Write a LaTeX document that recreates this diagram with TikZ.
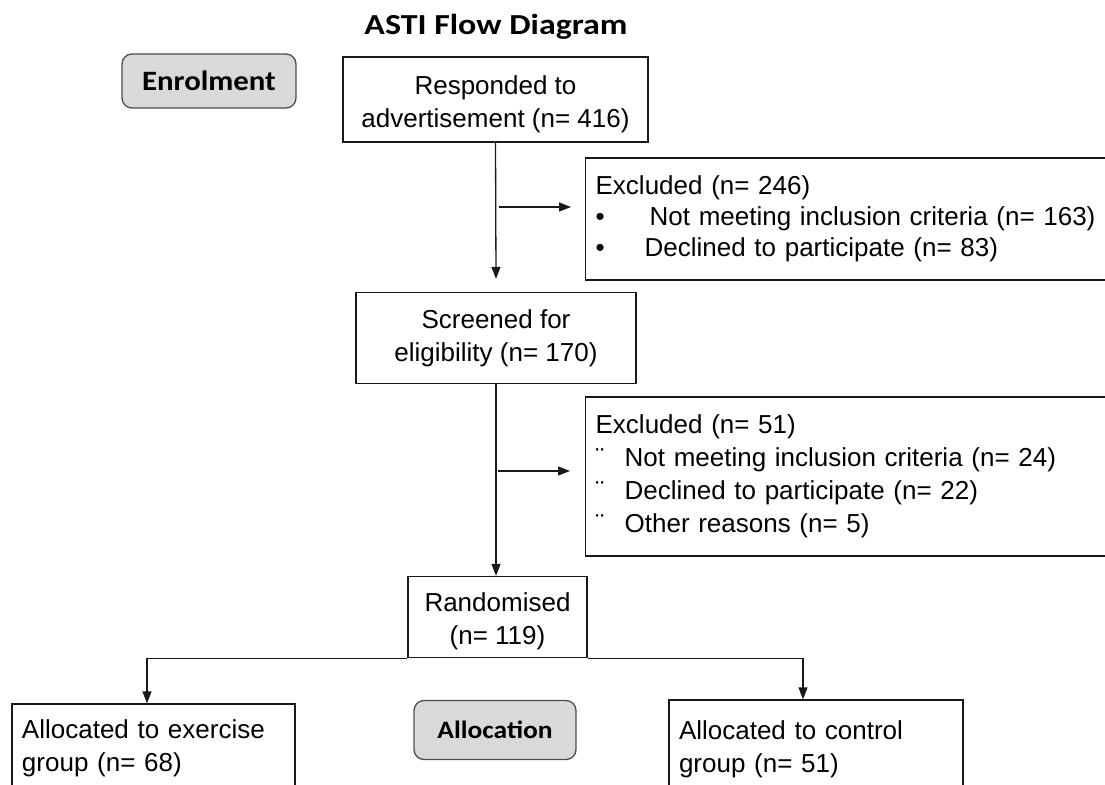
\documentclass[tikz,border=0pt]{standalone}
\usepackage{fontspec}
\setmainfont{Liberation Sans}
\newfontfamily\calibT[FakeStretch=1.17]{Carlito}
\newfontfamily\calibP[FakeStretch=1.1]{Carlito}
\usetikzlibrary{arrows.meta,calc}
\definecolor{phasefill}{HTML}{D9D9D9}
\definecolor{phaseline}{HTML}{4D4D4D}
\newcommand\topstrut[1]{\rule{0pt}{#1}}
\newcommand\botstrut[1]{\rule[-#1]{0pt}{0pt}}
\begin{document}
\begin{tikzpicture}[x=1bp,y=-1bp,
  box/.style={draw=black!90, line width=1.3bp, inner sep=0pt,
    font=\fontsize{26bp}{33bp}\selectfont},
  lbox/.style={box, inner xsep=10bp, align=left},
  phase/.style={draw=phaseline, fill=phasefill, rounded corners=10bp,
    line width=1.3bp, inner sep=0pt},
  arr/.style={-{Triangle[length=12bp,width=9bp]}, line width=1.3bp, draw=black!90}
]
\clip (0,0) rectangle (1105,785);
\useasboundingbox (0,0) rectangle (1105,785);

\node[font=\calibT\bfseries\fontsize{29bp}{34bp}\selectfont, anchor=base] (title) at (496,35) {ASTI Flow Diagram};

\node[phase, minimum width=174bp, minimum height=54bp,
  font=\calibP\bfseries\fontsize{28bp}{32bp}\selectfont] (enrol) at (209,81) {Enrolment};

\node[box, minimum width=305bp, minimum height=85bp, align=center] (resp) at (495.5,99.5)
  {\topstrut{27.8bp}Responded to\\advertisement (n= 416)};

\node[lbox, text width=510bp, minimum height=122bp, anchor=west,
  font=\fontsize{26bp}{31bp}\selectfont] (ex1) at (585,219)
  {Excluded (n= 246)\\
   \makebox[54bp][l]{•}Not meeting inclusion criteria (n= 163)\\
   \makebox[49bp][l]{•}Declined to participate (n= 83)};

\node[box, minimum width=280bp, minimum height=91bp, align=center] (scr) at (496,338)
  {Screened for\\eligibility (n= 170)};

\node[lbox, text width=510bp, minimum height=159bp, anchor=west] (ex2) at (585,476.5)
  {Excluded (n= 51)\\
   \makebox[29bp][l]{¨}Not meeting inclusion criteria (n= 24)\\
   \makebox[29bp][l]{¨}Declined to participate (n= 22)\\
   \makebox[29bp][l]{¨}Other reasons (n= 5)};

\node[box, minimum width=179bp, minimum height=81bp, align=center] (rand) at (497.5,617)
  {\topstrut{26.8bp}Randomised\\(n= 119)};

\node[lbox, text width=263bp, minimum height=96bp] (exer) at (153.5,752)
  {Allocated to exercise\\group (n= 68)\botstrut{12.5bp}};

\node[phase, minimum width=162bp, minimum height=59bp,
  font=\calibP\bfseries\fontsize{25bp}{30bp}\selectfont] (alloc) at (495,730) {Allocation};

\node[lbox, text width=274bp, minimum height=91bp] (ctrl) at (816,745.5)
  {\topstrut{25.8bp}Allocated to control\\group (n= 51)};

% connectors
\draw[arr] (resp.south) -- ([yshift=13bp]scr.north);
\coordinate (s1) at (499,207);
\draw[arr] (s1) -- ([xshift=-14bp]s1 -| ex1.west);
\draw[arr] (scr.south) -- (scr.south |- rand.north);
\coordinate (s2) at (498,471);
\draw[arr] (s2) -- ([xshift=-15bp]s2 -| ex2.west);
\coordinate (bl) at (147,658);
\coordinate (br) at (803,658);
\draw[arr] (rand.south west) -| (bl |- exer.north);
\draw[arr] (rand.south east) -| (br |- ctrl.north);
\end{tikzpicture}
\end{document}
